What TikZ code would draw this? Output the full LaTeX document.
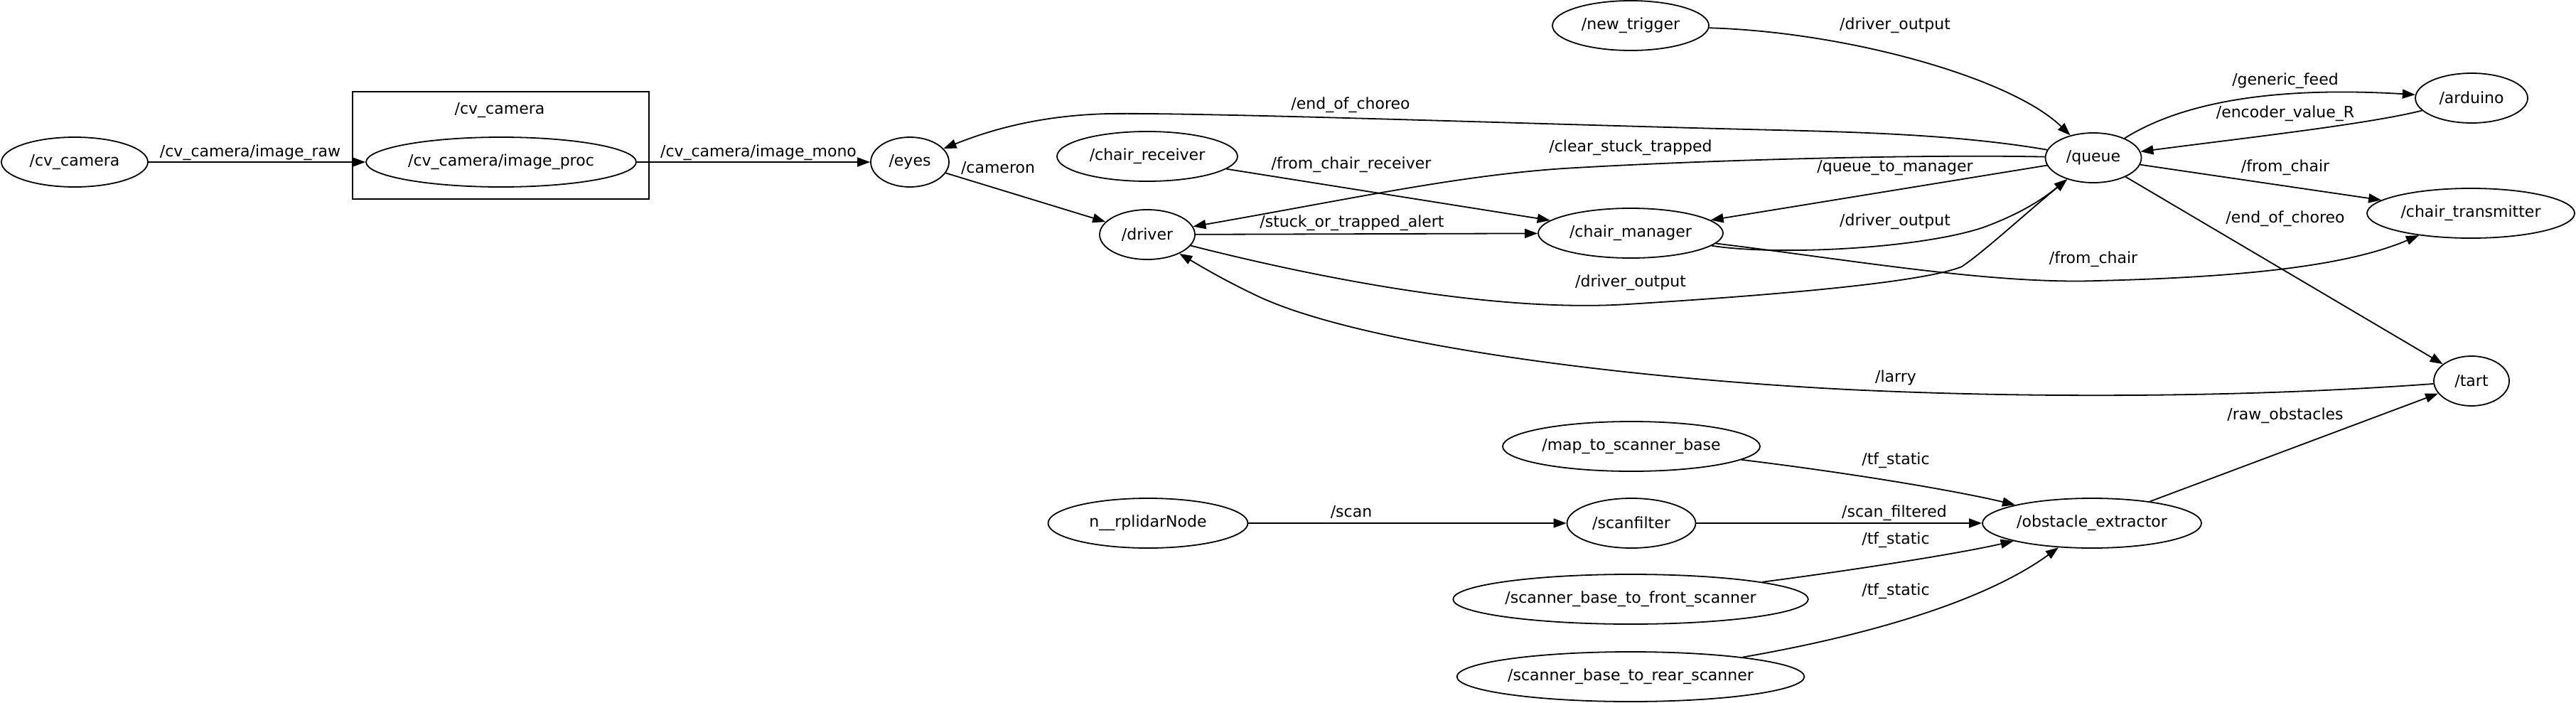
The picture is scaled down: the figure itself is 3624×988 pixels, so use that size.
\documentclass[tikz,border=0pt]{standalone}
\usepackage{fontspec}
\setmainfont{DejaVu Sans}
\usetikzlibrary{arrows.meta,shapes.geometric}
\tikzset{
  rosnode/.style={draw,ellipse,line width=1.8pt,inner sep=0pt,minimum height=70pt,font=\fontsize{22}{26}\selectfont},
  lbl/.style={inner sep=0pt,font=\fontsize{22}{26}\selectfont,text height=16pt,text depth=5pt},
  edge/.style={line width=1.8pt,-{Triangle[length=18pt,width=13pt]}},
  clusterbox/.style={draw,line width=1.8pt}
}
\begin{document}
\begin{tikzpicture}[x=1pt,y=-1pt]
\fill[white] (0,0) rectangle (3624,988);
\useasboundingbox (0,0) rectangle (3624,988);
% cluster
\draw[clusterbox] (496,129) rectangle (913,280);
\node[lbl] (clusterlbl) at (703,155) {/cv\_camera};
% nodes
\node[rosnode,minimum width=206pt] (cvcam) at (105,228) {/cv\_camera};
\node[rosnode,minimum width=380pt] (improc) at (705,228) {/cv\_camera/image\_proc};
\node[rosnode,minimum width=110pt] (eyes) at (1280,228) {/eyes};
\node[rosnode,minimum width=220pt] (newtrig) at (2294,36) {/new\_trigger};
\node[rosnode,minimum width=254pt] (chairrecv) at (1614,220) {/chair\_receiver};
\node[rosnode,minimum width=134pt] (driver) at (1614,330) {/driver};
\node[rosnode,minimum width=260pt] (chairmgr) at (2294,328) {/chair\_manager};
\node[rosnode,minimum width=135pt] (queue) at (2945,222) {/queue};
\node[rosnode,minimum width=158pt] (arduino) at (3477,138) {/arduino};
\node[rosnode,minimum width=292pt] (chairtx) at (3476,300) {/chair\_transmitter};
\node[rosnode,minimum width=106pt] (tart) at (3477,536) {/tart};
\node[rosnode,minimum width=362pt] (mapnode) at (2295,628) {/map\_to\_scanner\_base};
\node[rosnode,minimum width=281pt] (rplidar) at (1615,736) {n\_\_rplidarNode};
\node[rosnode,minimum width=181pt] (scanfilter) at (2295,736) {/scanfilter};
\node[rosnode,minimum width=308pt] (obstacle) at (2943,736) {/obstacle\_extractor};
\node[rosnode,minimum width=496pt] (front) at (2294,843) {/scanner\_base\_to\_front\_scanner};
\node[rosnode,minimum width=480pt] (rear) at (2294,952) {/scanner\_base\_to\_rear\_scanner};
% edges
\draw[edge] (cvcam) -- (improc);
\draw[edge] (improc) -- (eyes);
\draw[edge] (eyes) -- (driver);
\draw[edge] (queue) .. controls (2760,190) and (2620,186) .. (2500,183)
   .. controls (2200,176) and (1700,158) .. (1560,160)
   .. controls (1470,162) and (1400,180) .. (eyes);
\draw[edge] (queue) .. controls (2700,217) and (2400,225) .. (2200,237)
   .. controls (2050,247) and (1900,280) .. (driver);
\draw[edge] (chairrecv) -- (chairmgr);
\draw[edge] (driver) -- (chairmgr);
\draw[edge] (queue) -- (chairmgr);
\draw[edge] (chairmgr) .. controls (2500,360) and (2700,350) .. (2790,320)
   .. controls (2850,298) and (2880,275) .. (queue);
\draw[edge] (driver) .. controls (1850,390) and (2100,440) .. (2290,428)
   .. controls (2450,418) and (2700,400) .. (2760,375)
   .. controls (2790,355) and (2850,300) .. (queue);
\draw[edge] (newtrig) .. controls (2600,45) and (2830,110) .. (queue);
\draw[edge] (queue) .. controls (3060,150) and (3180,120) .. (arduino);
\draw[edge] (arduino) .. controls (3330,175) and (3150,195) .. (queue);
\draw[edge] (queue) -- (chairtx);
\draw[edge] (chairmgr) .. controls (2600,365) and (2800,400) .. (2950,395)
   .. controls (3150,390) and (3300,375) .. (chairtx);
\draw[edge] (queue) -- (tart);
\draw[edge] (tart) .. controls (3150,560) and (2850,560) .. (2600,548)
   .. controls (2250,530) and (1900,480) .. (1766,415)
   .. controls (1720,393) and (1690,375) .. (driver);
\draw[edge] (obstacle) -- (tart);
\draw[edge] (mapnode) .. controls (2600,665) and (2750,690) .. (obstacle);
\draw[edge] (rplidar) -- (scanfilter);
\draw[edge] (scanfilter) -- (obstacle);
\draw[edge] (front) .. controls (2600,803) and (2750,780) .. (obstacle);
\draw[edge] (rear) .. controls (2650,890) and (2800,840) .. (obstacle);
% labels
\node[lbl] (l1) at (352,215) {/cv\_camera/image\_raw};
\node[lbl] (l2) at (1067,215) {/cv\_camera/image\_mono};
\node[lbl] (l3) at (1404,238) {/cameron};
\node[lbl] (l4) at (1900,148) {/end\_of\_choreo};
\node[lbl] (l5) at (2294,208) {/clear\_stuck\_trapped};
\node[lbl] (l6) at (1901,232) {/from\_chair\_receiver};
\node[lbl] (l7) at (1902,314) {/stuck\_or\_trapped\_alert};
\node[lbl] (l8) at (2294,398) {/driver\_output};
\node[lbl] (l9) at (2666,36) {/driver\_output};
\node[lbl] (l10) at (2666,236) {/queue\_to\_manager};
\node[lbl] (l11) at (2666,312) {/driver\_output};
\node[lbl] (l12) at (3215,114) {/generic\_feed};
\node[lbl] (l13) at (3215,160) {/encoder\_value\_R};
\node[lbl] (l14) at (3215,236) {/from\_chair};
\node[lbl] (l15) at (3215,308) {/end\_of\_choreo};
\node[lbl] (l16) at (2945,365) {/from\_chair};
\node[lbl] (l17) at (2667,532) {/larry};
\node[lbl] (l18) at (3215,585) {/raw\_obstacles};
\node[lbl] (l19) at (2667,648) {/tf\_static};
\node[lbl] (l20) at (2667,760) {/tf\_static};
\node[lbl] (l21) at (2667,832) {/tf\_static};
\node[lbl] (l22) at (1901,722) {/scan};
\node[lbl] (l23) at (2665,722) {/scan\_filtered};
\end{tikzpicture}
\end{document}
